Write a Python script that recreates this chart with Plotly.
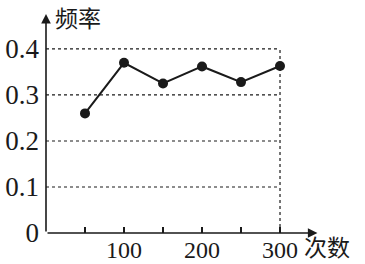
import plotly.graph_objects as go

counts = [50, 100, 150, 200, 250, 300]
freq = [0.26, 0.37, 0.325, 0.362, 0.328, 0.363]
y_ticks = [0, 0.1, 0.2, 0.3, 0.4]
y_ticklabels = ["0", "0.1", "0.2", "0.3", "0.4"]
x_ticks = [50, 100, 150, 200, 250, 300]
x_ticklabels = ["", "100", "", "200", "", "300"]

serif = "Liberation Serif, Times New Roman, serif"
cjk = "Noto Sans CJK SC"
ink = "#1a1a1a"

fig = go.Figure()
fig.add_trace(go.Scatter(
    x=counts, y=freq, mode="lines+markers",
    line=dict(color=ink, width=2),
    marker=dict(color=ink, size=10),
    showlegend=False, cliponaxis=False,
))

shapes = []
for v in y_ticks[1:]:
    shapes.append(dict(type="line", xref="x", yref="y", x0=0, x1=x_ticks[-1], y0=v, y1=v,
                       line=dict(color=ink, width=1.2, dash="dot")))
shapes.append(dict(type="line", xref="x", yref="y", x0=x_ticks[-1], x1=x_ticks[-1], y0=0, y1=y_ticks[-1],
                   line=dict(color=ink, width=1.2, dash="dot")))

annotations = [
    dict(x=348, y=0, ax=0, ay=0, xref="x", yref="y", axref="x", ayref="y",
         showarrow=True, arrowhead=2, arrowsize=1.2, arrowwidth=1.6, arrowcolor=ink, text=""),
    dict(x=0, y=0.476, ax=0, ay=0, xref="x", yref="y", axref="x", ayref="y",
         showarrow=True, arrowhead=2, arrowsize=1.2, arrowwidth=1.6, arrowcolor=ink, text=""),
    dict(x=9, y=1, xref="x", yref="paper", text="频率", showarrow=False,
         xanchor="left", yanchor="middle", yshift=-3,
         font=dict(family=cjk, size=23, color=ink)),
    dict(x=328, y=0, xref="x", yref="y", text="次数", showarrow=False,
         xanchor="left", yanchor="middle", yshift=-13,
         font=dict(family=cjk, size=23, color=ink)),
]

fig.update_layout(
    width=365, height=264,
    margin=dict(l=46, r=47, t=14, b=31),
    paper_bgcolor="white", plot_bgcolor="white",
    shapes=shapes, annotations=annotations,
    xaxis=dict(range=[0, 348.7], showgrid=False, zeroline=False, showline=False,
               automargin=False,
               tickvals=x_ticks, ticktext=x_ticklabels, ticks="inside", ticklen=6,
               tickwidth=1.5, tickcolor=ink, ticklabelstandoff=0,
               tickfont=dict(family=serif, size=24, color=ink)),
    yaxis=dict(range=[0, 0.476], showgrid=False, zeroline=False, showline=False,
               automargin=False,
               tickvals=y_ticks, ticktext=y_ticklabels, ticks="",
               ticklabelstandoff=6,
               tickfont=dict(family=serif, size=27, color=ink)),
)

fig.write_html("out.html")
